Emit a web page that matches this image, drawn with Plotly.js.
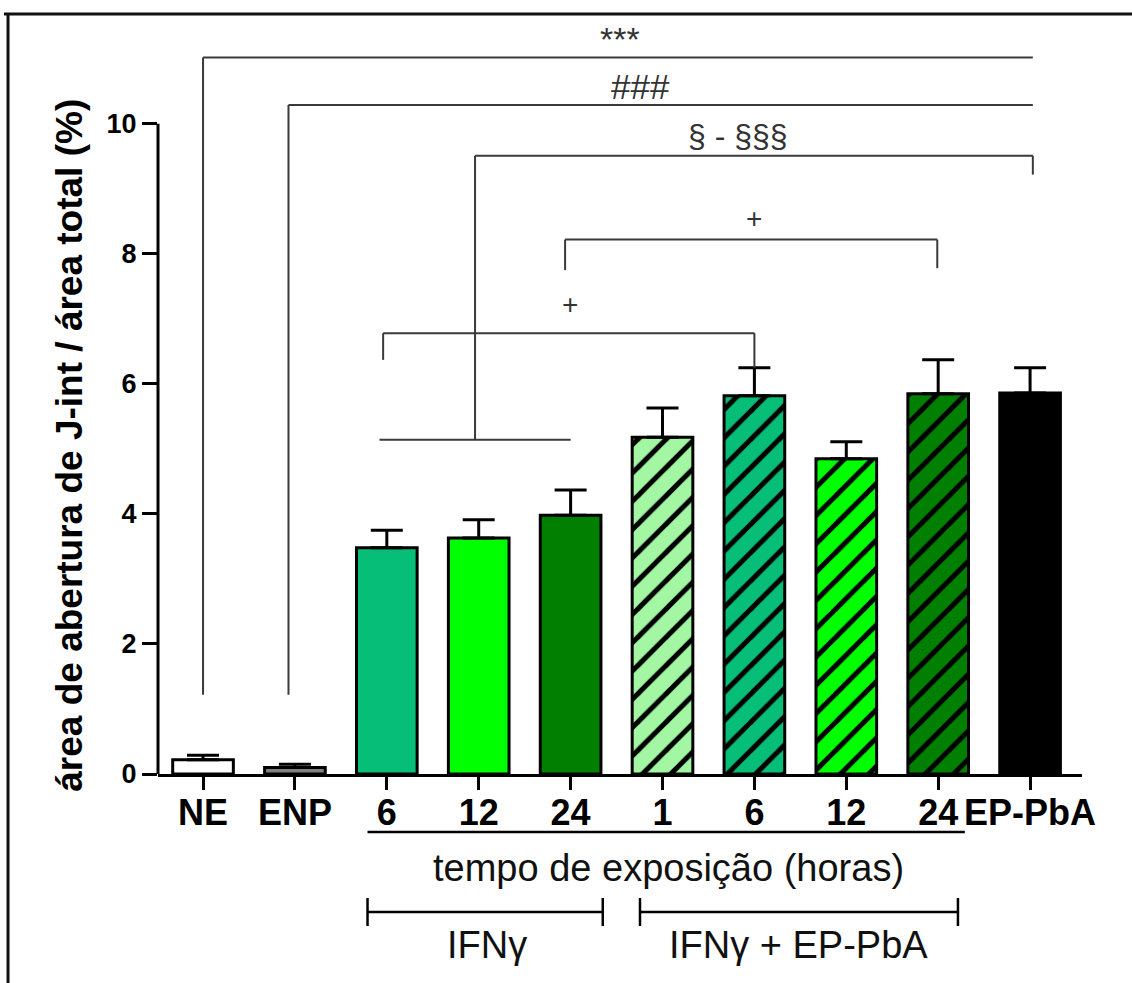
<!DOCTYPE html>
<html>
<head>
<meta charset="utf-8">
<script src="https://cdn.plot.ly/plotly-3.0.1.min.js"></script>
<style>html,body{margin:0;padding:0;background:#fff;}#chart{width:1132px;height:983px;}</style>
</head>
<body>
<div id="chart"></div>
<script>
// ---- data ----
const groups = ["NE", "ENP", "6", "12", "24", "1", "6", "12", "24", "EP-PbA"];
const means  = [0.22, 0.10, 3.48, 3.63, 3.98, 5.18, 5.82, 4.85, 5.85, 5.86];
const sem    = [0.07, 0.05, 0.27, 0.28, 0.39, 0.45, 0.43, 0.26, 0.52, 0.39];
const fills  = ["#ffffff", "#808080", "#06be78", "#00ff00", "#007f00", "#a3f7a3", "#06be78", "#00ff00", "#007f00", "#000000"];
const hatches = ["", "", "", "", "", "/", "/", "/", "/", ""];
const yTicks = [0, 2, 4, 6, 8, 10];
const sigLabels = ["***", "###", "§ - §§§", "+", "+"];
const axisTitle = "área de abertura de J-int / área total (%)";
const timeTitle = "tempo de exposição (horas)";
const groupLabels = ["IFNγ", "IFNγ + EP-PbA"];

const FONT = "Arial, 'Liberation Sans', sans-serif";
const xIdx = groups.map((g, i) => i);

// one trace per bar so each bar keeps its own hatch colour
const traces = groups.map((g, i) => ({
  type: "bar",
  x: [xIdx[i]],
  y: [means[i]],
  width: 0.66,
  name: g,
  marker: {
    color: fills[i],
    line: {color: "#000", width: 3},
    pattern: {shape: hatches[i], fillmode: "overlay", fgcolor: "#000000", fgopacity: 1, size: 20, solidity: 0.25}
  },
  error_y: {type: "data", symmetric: false, array: [sem[i]], arrayminus: [0],
            color: "#000", thickness: 3, width: 16},
  hoverinfo: "skip"
}));

// bracket geometry (category index, y value)
const lineStyle = {color: "#3a3a3a", width: 2};
function seg(x0, y0, x1, y1) {
  return {type: "line", xref: "x", yref: "y", x0: x0, y0: y0, x1: x1, y1: y1, line: lineStyle, layer: "above"};
}
function pline(x0, y0, x1, y1, w) {
  return {type: "line", xref: "x", yref: "paper", x0: x0, y0: y0, x1: x1, y1: y1, line: {color: "#000", width: w}};
}
const shapes = [
  // *** bracket
  seg(0, 1.22, 0, 11.02), seg(0, 11.02, 9.03, 11.02),
  // ### bracket
  seg(0.93, 1.22, 0.93, 10.29), seg(0.93, 10.29, 9.03, 10.29),
  // § bracket
  seg(1.92, 5.14, 4.0, 5.14), seg(2.96, 5.14, 2.96, 9.51), seg(2.96, 9.51, 9.03, 9.51), seg(9.03, 9.51, 9.03, 9.22),
  // + upper
  seg(3.94, 7.75, 3.94, 8.22), seg(3.94, 8.22, 7.99, 8.22), seg(7.99, 8.22, 7.99, 7.78),
  // + lower
  seg(1.96, 6.37, 1.96, 6.78), seg(1.96, 6.78, 6.0, 6.78), seg(6.0, 6.78, 6.0, 6.25),
  // y axis line (0..10)
  {type: "line", xref: "paper", yref: "y", x0: 0, x1: 0, y0: 0, y1: 10, line: {color: "#000", width: 3}},
  // lines below axis
  pline(1.79, -0.0763, 8.29, -0.0763, 2.5),
  pline(1.79, -0.1816, 4.35, -0.1816, 2.5),
  pline(1.79, -0.1632, 1.79, -0.2, 2.5),
  pline(4.35, -0.1632, 4.35, -0.2, 2.5),
  pline(4.755, -0.1816, 8.215, -0.1816, 2.5),
  pline(4.755, -0.1632, 4.755, -0.2, 2.5),
  pline(8.215, -0.1632, 8.215, -0.2, 2.5),
  // figure frame (top + left)
  {type: "line", xref: "paper", yref: "paper", x0: -0.1667, x1: 1.06, y0: 1.0, y1: 1.0, line: {color: "#111", width: 3}},
  {type: "line", xref: "paper", yref: "paper", x0: -0.1623, x1: -0.1623, y0: 1.0, y1: -0.2750, line: {color: "#111", width: 3}}
];

function sig(text, x, y, size) {
  return {xref: "x", yref: "y", x: x, y: y, text: text, showarrow: false,
          font: {family: FONT, size: size, color: "#333"}, xanchor: "center", yanchor: "middle"};
}
function below(text, x, y) {
  return {xref: "x", yref: "paper", x: x, y: y, text: text, showarrow: false,
          font: {family: FONT, size: 38, color: "#111"}, xanchor: "center", yanchor: "middle"};
}
const annotations = [
  sig(sigLabels[0], 4.54, 11.30, 34),
  sig(sigLabels[1], 4.76, 10.58, 35),
  sig(sigLabels[2], 5.82, 9.81, 32),
  sig(sigLabels[3], 6.0, 8.55, 28),
  sig(sigLabels[4], 3.99, 7.22, 28),
  below(timeTitle, 5.06, -0.1237),
  below(groupLabels[0], 3.09, -0.225),
  below(groupLabels[1], 6.48, -0.225),
  // y-axis title, centred on the 0-10 span of the axis
  {xref: "paper", yref: "y", x: -0.0952, y: 5.05, text: axisTitle, textangle: -90, showarrow: false,
   font: {family: FONT, size: 37, color: "#000", weight: "bold"}, xanchor: "center", yanchor: "middle"}
];

const layout = {
  width: 1132, height: 983, autosize: false,
  margin: {l: 158, r: 50, t: 14, b: 209, pad: 0},
  paper_bgcolor: "#fff", plot_bgcolor: "#fff",
  showlegend: false,
  barmode: "overlay",
  xaxis: {
    range: [-0.49, 9.565], tickmode: "array", tickvals: xIdx, ticktext: groups, tickangle: 0,
    showline: true, linecolor: "#000", linewidth: 3,
    ticks: "outside", ticklen: 13, tickwidth: 3, tickcolor: "#000", ticklabelstandoff: -8,
    tickfont: {family: FONT, size: 36, color: "#000", weight: "bold"},
    showgrid: false, zeroline: false, fixedrange: true, automargin: false
  },
  yaxis: {
    range: [0, 11.69], tickmode: "array", tickvals: yTicks,
    showline: false, ticks: "outside", ticklen: 15, tickwidth: 3, tickcolor: "#000",
    tickfont: {family: FONT, size: 27, color: "#000", weight: "bold"},
    showgrid: false, zeroline: false, fixedrange: true, automargin: false
  },
  shapes: shapes,
  annotations: annotations
};

Plotly.newPlot("chart", traces, layout, {displayModeBar: false, staticPlot: true});
</script>
</body>
</html>
